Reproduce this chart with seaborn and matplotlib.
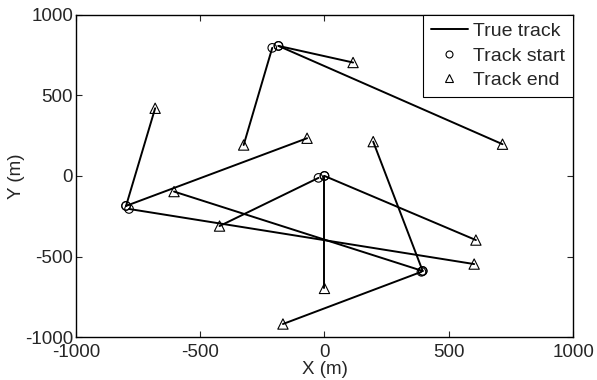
import pandas as pd
import matplotlib
matplotlib.use("Agg")
import matplotlib.pyplot as plt
from matplotlib.lines import Line2D
import seaborn as sns

# Track start / end positions (m), one entry per track
start_x = [-185, -185, -210, -798, -798, -786, -24, 0, 0, 395, 390, 395]
start_y = [807, 807, 795, -186, -186, -205, -12, 0, 0, -590, -595, -590]
end_x = [115, 716, -325, -681, -70, 602, -422, 0, 609, 196, -167, -605]
end_y = [704, 197, 192, 420, 234, -547, -311, -698, -398, 213, -919, -97]

ticks = [-1000, -500, 0, 500, 1000]

rows = []
for i in range(len(start_x)):
    rows.append({"track": i, "x": start_x[i], "y": start_y[i], "kind": "start"})
    rows.append({"track": i, "x": end_x[i], "y": end_y[i], "kind": "end"})
df = pd.DataFrame(rows)

sns.set_style("ticks")
plt.rcParams["font.family"] = ["Liberation Sans", "DejaVu Sans"]
plt.rcParams["axes.unicode_minus"] = False

fig = plt.figure(figsize=(5.97, 3.8), dpi=100)
ax = fig.add_axes([0.127, 0.113, 0.833, 0.848])

sns.lineplot(data=df, x="x", y="y", units="track", estimator=None, sort=False,
             color="black", linewidth=1.4, ax=ax, legend=False)
sns.scatterplot(data=df[df.kind == "start"], x="x", y="y", marker="o", s=38,
                facecolor="none", edgecolor="black", linewidth=0.8, ax=ax, legend=False, zorder=3)
sns.scatterplot(data=df[df.kind == "end"], x="x", y="y", marker="^", s=55,
                facecolor="none", edgecolor="black", linewidth=0.8, ax=ax, legend=False, zorder=3)

ax.set_xlim(-1000, 1000)
ax.set_ylim(-1000, 1000)
ax.set_xticks(ticks)
ax.set_yticks(ticks)
ax.set_xlabel("X (m)", fontsize=13.5, labelpad=0)
ax.set_ylabel("Y (m)", fontsize=13.5, labelpad=0)
ax.tick_params(direction="in", top=True, right=True, labelsize=13.5, length=4, width=0.8, pad=2)
ax.tick_params(axis="x", pad=5)
for sp in ax.spines.values():
    sp.set_linewidth(1.0)
    sp.set_color("black")

handles = [
    Line2D([], [], color="black", linewidth=1.4),
    Line2D([], [], color="black", marker="o", linestyle="none", markerfacecolor="none", markersize=5, markeredgewidth=0.8),
    Line2D([], [], color="black", marker="^", linestyle="none", markerfacecolor="none", markersize=6, markeredgewidth=0.8),
]
leg = ax.legend(handles, ["True track", "Track start", "Track end"], loc="upper right",
                borderaxespad=0, fancybox=False, framealpha=1, edgecolor="black",
                fontsize=14, handlelength=1.9, handletextpad=0.3, labelspacing=0.35,
                borderpad=0.4)
leg.get_frame().set_linewidth(0.8)

fig.savefig("out.png", dpi=100)
